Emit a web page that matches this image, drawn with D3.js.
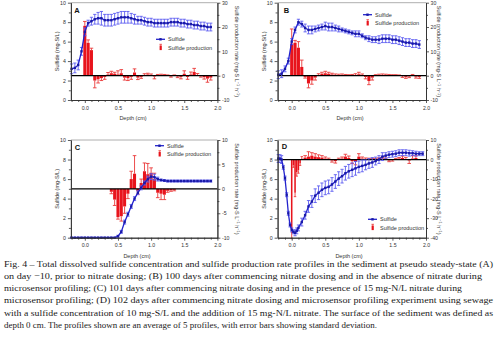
<!DOCTYPE html>
<html>
<head>
<meta charset="utf-8">
<script src="https://cdn.jsdelivr.net/npm/d3@7"></script>
<style>
  html, body { margin: 0; padding: 0; background: #fff; }
  svg { display: block; }
  text { font-family: "Liberation Sans", Arial, sans-serif; }
</style>
</head>
<body>
<svg id="fig" width="500" height="337"></svg>
<script>
// ---- Sulfide concentration profiles (mg-S/L) ----
const profileDepths = [-0.2,-0.15,-0.1,-0.05,0,0.05,0.1,0.15,0.2,0.25,0.3,0.35,0.4,0.45,0.5,0.55,0.6,0.65,0.7,0.75,0.8,0.85,0.9,0.95,1.0,1.05,1.1,1.15,1.2,1.25,1.3,1.35,1.4,1.45,1.5,1.55,1.6,1.65,1.7,1.75,1.8,1.85,1.9];

const sulfideA = [3.2,3.3,3.6,5.0,7.0,7.9,8.1,8.3,8.4,8.4,8.2,8.2,8.2,8.3,8.4,8.5,8.5,8.5,8.4,8.3,8.2,8.2,8.1,8.0,8.0,7.9,7.9,7.9,7.9,7.9,8.0,8.0,8.0,7.9,7.9,7.8,7.8,7.7,7.7,7.6,7.6,7.5,7.5];
const sulfideErrA = [0.5,0.5,0.5,0.4,0.4,0.3,0.4,0.5,0.6,0.7,0.6,0.6,0.6,0.6,0.6,0.6,0.6,0.6,0.5,0.5,0.4,0.4,0.4,0.4,0.4,0.4,0.4,0.4,0.4,0.4,0.4,0.4,0.4,0.4,0.4,0.4,0.4,0.4,0.4,0.4,0.4,0.4,0.4];

const sulfideB = [2.6,2.7,3.2,4.0,6.0,7.2,8.0,7.8,7.4,7.2,7.2,7.3,7.4,7.5,7.6,7.5,7.5,7.4,7.3,7.2,7.1,7.0,6.9,6.8,6.8,6.6,6.4,6.3,6.2,6.2,6.2,6.3,6.3,6.3,6.2,6.2,6.1,6.0,5.9,5.9,5.8,5.8,5.7];
const sulfideErrB = [0.4,0.4,0.3,0.3,0.3,0.3,0.3,0.3,0.4,0.4,0.4,0.3,0.3,0.3,0.4,0.4,0.4,0.3,0.3,0.2,0.2,0.2,0.2,0.3,0.3,0.2,0.2,0.3,0.3,0.3,0.4,0.4,0.4,0.4,0.4,0.4,0.4,0.4,0.4,0.4,0.4,0.4,0.4];

const sulfideC = [0,0,0,0,0,0,0,0,0,0,0,0,0,0,0.15,0.6,1.6,2.4,3.2,4.0,4.6,5.1,5.6,6.0,6.25,6.2,6.0,5.9,5.85,5.8,5.8,5.8,5.8,5.8,5.8,5.8,5.8,5.8,5.8,5.8,5.8,5.8,5.8];
const sulfideErrC = [0.05,0.05,0.05,0.05,0.05,0.05,0.05,0.05,0.05,0.05,0.05,0.05,0.05,0.05,0.1,0.15,0.2,0.2,0.2,0.2,0.2,0.2,0.2,0.3,0.3,0.3,0.2,0.1,0.1,0.1,0.1,0.1,0.1,0.1,0.1,0.1,0.1,0.1,0.1,0.1,0.1,0.1,0.1];

const profileDepthsD = [-0.2,-0.175,-0.15,-0.125,-0.1,-0.075,-0.05,-0.025,0,0.025,0.05,0.075,0.1,0.15,0.2,0.25,0.3,0.35,0.4,0.45,0.5,0.55,0.6,0.65,0.7,0.75,0.8,0.85,0.9,0.95,1.0,1.05,1.1,1.15,1.2,1.25,1.3,1.35,1.4,1.45,1.5,1.55,1.6,1.65,1.7,1.75,1.8,1.85,1.9,1.95];
const sulfideD = [8.1,8.1,8.0,7.2,6.1,4.4,2.5,1.3,0.8,0.6,0.5,0.7,1.0,1.6,2.3,3.2,3.7,4.3,4.6,4.9,5.1,5.2,5.45,5.75,6.05,6.3,6.6,6.8,6.95,7.1,7.25,7.35,7.45,7.6,7.7,7.85,8.0,8.3,8.4,8.5,8.55,8.6,8.7,8.7,8.7,8.65,8.65,8.6,8.6,8.6];
const sulfideErrD = [0.4,0.4,0.4,0.2,0.2,0.2,0.2,0.2,0.2,0.2,0.3,0.3,0.3,0.4,0.4,0.6,0.6,0.7,0.7,0.7,0.7,0.7,0.7,0.7,0.7,0.7,0.7,0.7,0.7,0.7,0.6,0.6,0.5,0.5,0.5,0.4,0.4,0.4,0.3,0.3,0.3,0.3,0.3,0.3,0.3,0.3,0.25,0.25,0.2,0.2];

// ---- Sulfide production rates (mg-S L-1 h-1) ----
const rateDepthsAB = [0,0.05,0.1,0.15,0.2,0.25,0.3,0.35,0.4,0.45,0.5,0.55,0.6,0.65,0.7,0.75,0.8,0.85,0.9,0.95,1.0,1.05,1.1,1.15,1.2,1.25,1.3,1.35,1.4,1.45,1.5,1.55,1.6,1.65,1.7,1.75,1.8,1.85,1.9];

const rateA = [20.5,13.5,10.5,-2,-1.5,-1,-0.5,0.5,1,0.8,0.5,1,-0.8,-1,-0.5,1.3,-0.8,-0.5,0.3,0.5,0.2,-0.3,0,0.2,0.1,0,-0.2,0,-0.3,-0.5,0.8,-0.5,0.5,1.5,0.3,-0.2,-0.6,-1.2,-0.8];
const rateErrA = [1.8,1.2,0.8,3,1.5,1,1,0.8,0.8,0.6,1.5,1.5,1,1,1,1.5,0.8,0.6,0.5,0.5,0.5,1,0.5,0.4,0.4,0.3,0.4,0.3,0.5,0.8,1.2,1,1,1.5,0.6,0.4,0.8,1.5,1];

const rateB = [13.2,13.5,11.5,3.6,-0.5,-3.2,-2,-0.8,0.3,0.8,1.0,0.8,0.5,0.3,0.2,0.3,0.2,0.1,0.1,0.3,0.6,0.2,-0.5,-2.2,-0.8,0.1,0.2,0.3,0.3,0.2,0.1,0.1,0,-0.2,-0.5,-0.3,0.1,-0.4,-0.5];
const rateErrB = [6,1,2.5,2.8,0.5,1.8,1.5,1,0.5,0.6,0.8,0.6,0.5,0.4,0.4,0.4,0.3,0.3,0.4,0.5,0.8,0.5,0.8,1.5,1,0.3,0.4,0.4,0.3,0.3,0.3,0.3,0.3,0.5,0.6,0.5,0.4,0.6,0.6];

const rateDepthsC = [0.4,0.45,0.5,0.55,0.6,0.65,0.7,0.75,0.8,0.85,0.9,0.95,1.0,1.05,1.1,1.15,1.2,1.25,1.3,1.35];
const rateC = [-0.6,-2.2,-5.8,-5.6,-3.6,-1,2.0,3.1,-0.5,1.2,3.6,3.0,3.3,2.0,-0.8,-1,-1.2,-0.4,-0.3,-0.2];
const rateErrC = [0.4,1.2,0.4,1,1.4,1,1.6,3.7,0.6,0.8,1.7,2.2,1.0,1.2,1,1.2,1,0.3,0.2,0.2];

const rateDepthsD = [0,0.025,0.05,0.075,0.1,0.125,0.15,0.2,0.25,0.3,0.35,0.4,0.45,0.5,0.55,0.6,0.65,0.7,0.75,0.8,0.85,0.9,0.95,1.0,1.05,1.1,1.15,1.2,1.25,1.3,1.35,1.4,1.45,1.5,1.55,1.6,1.65,1.7,1.75,1.8,1.85];
const rateD = [-37.5,-3,-17,-6.5,-5.5,-2,0.5,1.0,1.5,2.0,1.5,1.2,1.0,0.5,0.2,-0.5,-0.8,0.2,0.5,1.5,0.8,-0.8,-1.2,1.5,0.5,0.3,0.2,0.1,0.2,0.4,0.6,0.3,-0.5,-0.3,0.2,0.5,0.8,0.3,-0.5,0.5,0.8];
const rateErrD = [3,1,2,2,1.5,1,1,1,2.5,1.5,1.5,1.2,1,0.8,0.5,0.8,1,0.5,0.8,1.2,1,1.2,1.5,1.5,0.8,0.5,0.5,0.4,0.4,0.5,0.6,0.5,0.6,0.5,0.4,0.5,1,0.8,1.5,1.5,1.2];

// ---- Axis ticks ----
const depthTicks = [0, 0.5, 1.0, 1.5, 2.0];
const depthMinorTicks = [-0.2,-0.1,0.1,0.2,0.3,0.4,0.6,0.7,0.8,0.9,1.1,1.2,1.3,1.4,1.6,1.7,1.8,1.9];
const sulfideTicks = [0, 2, 4, 6, 8, 10];
const sulfideMinorTicks = [1, 3, 5, 7, 9];
const rateTicksAB = [-10, 0, 10, 20, 30];
const rateMinorAB = [-5, 5, 15, 25];
const rateTicksC = [-10, -5, 0, 5, 10];
const rateMinorC = [-7.5, -2.5, 2.5, 7.5];
const rateTicksD = [-40, -30, -20, -10, 0, 10];
const rateMinorD = [-35, -25, -15, -5, 5];

const captionLines = [
  "Fig. 4 \u2013 Total dissolved sulfide concentration and sulfide production rate profiles in the sediment at pseudo steady-state (A)",
  "on day \u221210, prior to nitrate dosing; (B) 100 days after commencing nitrate dosing and in the absence of nitrate during",
  "microsensor profiling; (C) 101 days after commencing nitrate dosing and in the presence of 15 mg-N/L nitrate during",
  "microsensor profiling; (D) 102 days after commencing nitrate dosing and microsensor profiling experiment using sewage",
  "with a sulfide concentration of 10 mg-S/L and the addition of 15 mg-N/L nitrate. The surface of the sediment was defined as",
  "depth 0 cm. The profiles shown are an average of 5 profiles, with error bars showing standard deviation."
];

// ---- Colours and type sizes ----
const BLUE = "#2222cc", BLUE_ERR = "#5c5cf0", RED = "#e8141c", RED_ERR = "#ea3a3a", AXIS = "#333";
const TICK_FONT = "5.2px", LABEL_FONT = "5.5px";

const svg = d3.select("#fig");

const panels = [
  { letter: "A", x0: 70.9, x1: 217.4, yTop: 2.7, yBot: 100,
    depth: profileDepths, sulfide: sulfideA, sulfideErr: sulfideErrA,
    rateDepth: rateDepthsAB, rate: rateA, rateErr: rateErrA,
    rateDomain: [-10, 30], rateTicks: rateTicksAB, rateMinor: rateMinorAB,
    legend: [156, 39.3], letterPos: [77, 13], xTitle: 133, rightTitleOff: 20 },
  { letter: "B", x0: 277.6, x1: 426, yTop: 2.7, yBot: 100,
    depth: profileDepths, sulfide: sulfideB, sulfideErr: sulfideErrB,
    rateDepth: rateDepthsAB, rate: rateB, rateErr: rateErrB,
    rateDomain: [-10, 30], rateTicks: rateTicksAB, rateMinor: rateMinorAB,
    legend: [363, 14.7], letterPos: [286.5, 13.3], xTitle: 350, rightTitleOff: 12.5 },
  { letter: "C", x0: 70.9, x1: 217.4, yTop: 140, yBot: 237.7,
    depth: profileDepths, sulfide: sulfideC, sulfideErr: sulfideErrC,
    rateDepth: rateDepthsC, rate: rateC, rateErr: rateErrC,
    rateDomain: [-10, 10], rateTicks: rateTicksC, rateMinor: rateMinorC,
    legend: [155, 145.7], letterPos: [77.5, 150], xTitle: 137, rightTitleOff: 20 },
  { letter: "D", x0: 277.6, x1: 426, yTop: 140, yBot: 237.7,
    depth: profileDepthsD, sulfide: sulfideD, sulfideErr: sulfideErrD,
    rateDepth: rateDepthsD, rate: rateD, rateErr: rateErrD,
    rateDomain: [-40, 10], rateTicks: rateTicksD, rateMinor: rateMinorD,
    legend: [368, 219.3], letterPos: [284.5, 148.7], xTitle: 349, rightTitleOff: 13 }
];

function drawPanel(p) {
  const g = svg.append("g");
  const x = d3.scaleLinear().domain([-0.21, 2.0]).range([p.x0, p.x1]);
  const y = d3.scaleLinear().domain([0, 10]).range([p.yBot, p.yTop]);
  const yr = d3.scaleLinear().domain(p.rateDomain).range([p.yBot, p.yTop]);

  // top frame
  g.append("line").attr("x1", p.x0).attr("x2", p.x1).attr("y1", p.yTop).attr("y2", p.yTop)
    .attr("stroke", "#999").attr("stroke-width", 0.8);

  // production-rate bars, width taken from neighbouring sample spacing
  const rates = p.rateDepth.map((d, i) => {
    const prev = i > 0 ? d - p.rateDepth[i - 1] : Infinity;
    const next = i < p.rateDepth.length - 1 ? p.rateDepth[i + 1] - d : Infinity;
    return { d, v: p.rate[i], e: p.rateErr[i], half: Math.min(prev, next) * 0.46 };
  });
  g.append("g").selectAll("rect").data(rates).join("rect")
    .attr("x", r => x(r.d - r.half))
    .attr("width", r => x(r.d + r.half) - x(r.d - r.half))
    .attr("y", r => Math.min(yr(r.v), yr(0)))
    .attr("height", r => Math.abs(yr(r.v) - yr(0)))
    .attr("fill", RED);
  // error bars point away from zero
  const rErr = g.append("g").attr("stroke", RED_ERR).attr("stroke-width", 0.9);
  rates.forEach(r => {
    const tip = r.v >= 0 ? r.v + r.e : r.v - r.e;
    const cx = x(r.d);
    const cap = Math.max(1.2, Math.min(1.8, (x(r.d + r.half) - x(r.d - r.half)) / 2 + 0.3));
    rErr.append("line").attr("x1", cx).attr("x2", cx).attr("y1", yr(r.v)).attr("y2", yr(tip));
    rErr.append("line").attr("x1", cx - cap).attr("x2", cx + cap).attr("y1", yr(tip)).attr("y2", yr(tip));
  });

  // zero line of the rate axis
  g.append("line").attr("x1", p.x0).attr("x2", p.x1).attr("y1", yr(0)).attr("y2", yr(0))
    .attr("stroke", "#000").attr("stroke-width", 1.3);

  // sulfide profile with standard-deviation bars
  const pts = p.depth.map((d, i) => ({ d, v: p.sulfide[i], e: p.sulfideErr[i] }));
  const sErr = g.append("g").attr("stroke", BLUE_ERR).attr("stroke-width", 0.9);
  pts.forEach(s => {
    const cx = x(s.d);
    const lo = Math.max(0, s.v - s.e), hi = s.v + s.e;
    sErr.append("line").attr("x1", cx).attr("x2", cx).attr("y1", y(lo)).attr("y2", y(hi));
    [lo, hi].forEach(t => sErr.append("line").attr("x1", cx - 1.6).attr("x2", cx + 1.6).attr("y1", y(t)).attr("y2", y(t)));
  });
  g.append("path").datum(pts)
    .attr("d", d3.line().x(s => x(s.d)).y(s => y(s.v)))
    .attr("fill", "none").attr("stroke", BLUE).attr("stroke-width", 1.3);
  g.append("g").selectAll("rect").data(pts).join("rect")
    .attr("x", s => x(s.d) - 1.2).attr("y", s => y(s.v) - 1.2)
    .attr("width", 2.4).attr("height", 2.4).attr("fill", "#1a1aa8");

  // axes
  const styleAxis = sel => {
    sel.selectAll("path").attr("stroke", AXIS).attr("stroke-width", 0.9);
    sel.selectAll("line").attr("stroke", AXIS).attr("stroke-width", 0.8);
    sel.selectAll("text").attr("fill", "#333").style("font-size", TICK_FONT)
      .style("font-family", "'Liberation Sans', Arial, sans-serif");
  };
  const bottom = g.append("g").attr("transform", `translate(0,${p.yBot})`)
    .call(d3.axisBottom(x).tickValues(depthTicks).tickFormat(d3.format(".1f")).tickSize(3).tickSizeOuter(0).tickPadding(3));
  styleAxis(bottom);
  const bottomMinor = g.append("g").attr("transform", `translate(0,${p.yBot})`)
    .call(d3.axisBottom(x).tickValues(depthMinorTicks).tickFormat("").tickSize(2).tickSizeOuter(0));
  styleAxis(bottomMinor);

  const left = g.append("g").attr("transform", `translate(${p.x0},0)`)
    .call(d3.axisLeft(y).tickValues(sulfideTicks).tickFormat(d => String(d)).tickSize(3).tickSizeOuter(0).tickPadding(2));
  styleAxis(left);
  const leftMinor = g.append("g").attr("transform", `translate(${p.x0},0)`)
    .call(d3.axisLeft(y).tickValues(sulfideMinorTicks).tickFormat("").tickSize(2).tickSizeOuter(0));
  styleAxis(leftMinor);

  const right = g.append("g").attr("transform", `translate(${p.x1},0)`)
    .call(d3.axisRight(yr).tickValues(p.rateTicks).tickFormat(d => String(d)).tickSize(3).tickSizeOuter(0).tickPadding(1.5));
  styleAxis(right);
  const rightMinor = g.append("g").attr("transform", `translate(${p.x1},0)`)
    .call(d3.axisRight(yr).tickValues(p.rateMinor).tickFormat("").tickSize(2).tickSizeOuter(0));
  styleAxis(rightMinor);

  // titles
  const midY = (p.yTop + p.yBot) / 2;
  g.append("text").attr("x", p.xTitle).attr("y", p.yBot + 20)
    .attr("text-anchor", "middle").attr("fill", "#333").style("font-size", LABEL_FONT).text("Depth (cm)");
  g.append("text").attr("transform", `translate(${p.x0 - 12},${midY}) rotate(-90)`)
    .attr("text-anchor", "middle").attr("fill", "#333").style("font-size", LABEL_FONT).text("Sulfide (mg-S/L)");
  const rt = g.append("text").attr("transform", `translate(${p.x1 + p.rightTitleOff - 2},${midY}) rotate(90)`)
    .attr("text-anchor", "middle").attr("fill", "#333").style("font-size", LABEL_FONT);
  rt.append("tspan").text("Sulfide production rate (mg-S L");
  rt.append("tspan").attr("dy", -1.8).style("font-size", "3.8px").text("\u22121");
  rt.append("tspan").attr("dy", 1.8).text(" h");
  rt.append("tspan").attr("dy", -1.8).style("font-size", "3.8px").text("\u22121");
  rt.append("tspan").attr("dy", 1.8).text(")");

  // panel letter
  g.append("text").attr("x", p.letterPos[0]).attr("y", p.letterPos[1])
    .attr("text-anchor", "middle").attr("fill", "#111").style("font-size", "7.5px").style("font-weight", "bold")
    .text(p.letter);

  // legend
  const [lx, ly] = p.legend;
  const lg = g.append("g");
  lg.append("line").attr("x1", lx).attr("x2", lx + 9).attr("y1", ly).attr("y2", ly)
    .attr("stroke", BLUE).attr("stroke-width", 1.3);
  lg.append("rect").attr("x", lx + 3.3).attr("y", ly - 1.2).attr("width", 2.4).attr("height", 2.4).attr("fill", "#1a1aa8");
  lg.append("text").attr("x", lx + 12).attr("y", ly + 1.9).attr("fill", "#333").style("font-size", LABEL_FONT).text("Sulfide");
  const ry = ly + 8.4;
  lg.append("rect").attr("x", lx + 3.6).attr("y", ry - 2.2).attr("width", 2.2).attr("height", 4.6).attr("fill", RED);
  lg.append("line").attr("x1", lx + 4.7).attr("x2", lx + 4.7).attr("y1", ry - 3.4).attr("y2", ry - 2.2)
    .attr("stroke", RED_ERR).attr("stroke-width", 0.8);
  lg.append("line").attr("x1", lx + 3.4).attr("x2", lx + 6).attr("y1", ry - 3.4).attr("y2", ry - 3.4)
    .attr("stroke", RED_ERR).attr("stroke-width", 0.8);
  lg.append("text").attr("x", lx + 12).attr("y", ry + 1.9).attr("fill", "#333").style("font-size", LABEL_FONT).text("Sulfide production");
}

panels.forEach(drawPanel);

// caption
const capEnds = [493, 482, 462, 493, 493, 377];
const capBase = [266.7, 278.9, 291.1, 303.4, 315.7, 327.8];
const cap = svg.append("g").attr("fill", "#1a1a1a");
captionLines.forEach((line, i) => {
  cap.append("text").attr("x", 4).attr("y", capBase[i])
    .attr("textLength", capEnds[i] - 4).attr("lengthAdjust", "spacingAndGlyphs")
    .style("font-family", "'Liberation Serif', 'DejaVu Serif', serif").style("font-size", "9.2px")
    .text(line);
});
</script>
</body>
</html>
